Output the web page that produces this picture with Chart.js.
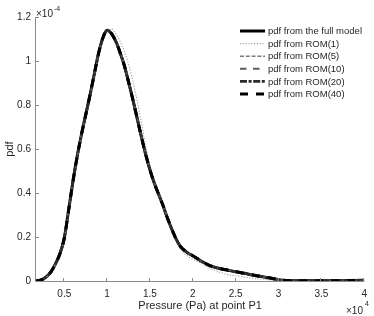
<!DOCTYPE html>
<html><head><meta charset="utf-8">
<script src="https://cdn.jsdelivr.net/npm/chart.js@4"></script>
<style>html,body{margin:0;padding:0;background:#fff}#wrap{width:374px;height:316px;position:relative}</style>
</head><body><div id="wrap"><canvas id="c" width="374" height="316"></canvas></div>
<script>
// x in units of 1e4 Pa, y in units of 1e-4
const pressure = [0.17,0.2,0.25,0.3,0.35,0.4,0.45,0.5,0.55,0.6,0.65,0.7,0.75,0.8,0.85,0.9,0.95,1.0,1.05,1.1,1.15,1.2,1.25,1.3,1.35,1.4,1.45,1.5,1.55,1.6,1.65,1.7,1.75,1.8,1.85,1.9,1.95,2.0,2.1,2.2,2.3,2.4,2.5,2.6,2.7,2.8,2.9,3.0,3.1,3.2,3.5,4.0];
const pdfFull  = [0,0.002,0.008,0.022,0.045,0.08,0.125,0.195,0.32,0.45,0.565,0.665,0.755,0.845,0.94,1.035,1.105,1.14,1.125,1.09,1.04,0.98,0.905,0.825,0.74,0.655,0.575,0.505,0.445,0.395,0.345,0.29,0.24,0.195,0.16,0.14,0.125,0.115,0.09,0.07,0.058,0.05,0.042,0.035,0.027,0.02,0.014,0.006,0.002,0.001,0.001,0.003];
const pdfRom1  = [0,0.002,0.008,0.02,0.042,0.076,0.12,0.185,0.31,0.44,0.555,0.655,0.745,0.835,0.93,1.025,1.095,1.13,1.145,1.125,1.09,1.045,0.985,0.91,0.82,0.72,0.615,0.52,0.45,0.395,0.34,0.285,0.235,0.19,0.15,0.125,0.11,0.10,0.08,0.058,0.042,0.03,0.024,0.018,0.012,0.008,0.005,0.003,0.001,0.001,0.001,0.002];
const pdfRom5  = [0,0.002,0.008,0.021,0.044,0.079,0.124,0.193,0.318,0.448,0.563,0.663,0.754,0.844,0.938,1.033,1.103,1.138,1.124,1.09,1.042,0.982,0.908,0.829,0.743,0.658,0.577,0.507,0.446,0.396,0.346,0.292,0.242,0.198,0.163,0.142,0.126,0.114,0.089,0.069,0.058,0.051,0.043,0.036,0.028,0.021,0.014,0.006,0.002,0.001,0.001,0.003];
const pdfRom10 = [0,0.002,0.008,0.022,0.045,0.08,0.126,0.196,0.321,0.451,0.566,0.666,0.756,0.846,0.941,1.036,1.106,1.141,1.126,1.091,1.041,0.981,0.906,0.826,0.741,0.656,0.576,0.506,0.445,0.395,0.345,0.29,0.241,0.196,0.161,0.141,0.125,0.115,0.091,0.071,0.059,0.05,0.042,0.035,0.027,0.02,0.013,0.006,0.002,0.001,0.001,0.003];
const pdfRom20 = [0,0.002,0.008,0.022,0.045,0.08,0.125,0.195,0.32,0.45,0.565,0.665,0.755,0.845,0.94,1.035,1.105,1.14,1.125,1.09,1.04,0.98,0.905,0.825,0.74,0.655,0.575,0.505,0.445,0.395,0.345,0.29,0.24,0.195,0.16,0.14,0.125,0.115,0.09,0.07,0.058,0.05,0.042,0.035,0.027,0.02,0.014,0.006,0.002,0.001,0.001,0.003];
const pdfRom40 = [0,0.002,0.008,0.022,0.045,0.08,0.125,0.195,0.32,0.45,0.565,0.665,0.755,0.845,0.94,1.035,1.105,1.14,1.125,1.09,1.04,0.98,0.905,0.825,0.74,0.655,0.575,0.505,0.445,0.395,0.345,0.29,0.24,0.195,0.16,0.14,0.125,0.115,0.09,0.07,0.058,0.05,0.042,0.035,0.027,0.02,0.014,0.006,0.002,0.001,0.001,0.003];
const seriesLabels = ['pdf from the full model','pdf from ROM(1)','pdf from ROM(5)','pdf from ROM(10)','pdf from ROM(20)','pdf from ROM(40)'];
const xTicks = [0.5,1,1.5,2,2.5,3,3.5,4];
const xTickLabels = ['0.5','1','1.5','2','2.5','3','3.5','4'];
const yTicks = [0,0.2,0.4,0.6,0.8,1,1.2];
const yTickLabels = ['0','0.2','0.4','0.6','0.8','1','1.2'];
const xTitle = 'Pressure (Pa) at point P1';
const yTitle = 'pdf';

const FONT = '"Liberation Sans", Arial, Helvetica, sans-serif';
const TXT = '#262626';
const AX = '#8c8c8c';

function pts(ys){ return pressure.map((x,i)=>({x:x,y:ys[i]})); }
const styles = [
  {c:'#000000', w:3, d:[], o:6},
  {c:'#a6a6a6', w:1.2, d:[1.2,1.6], o:5},
  {c:'#7a7a7a', w:1.6, d:[4,1.8], o:4},
  {c:'#5c5c5c', w:2, d:[6.5,6.5], o:3},
  {c:'#2b2b2b', w:2.6, d:[7,1.6,3,1.6], o:2},
  {c:'#000000', w:3, d:[8,8], o:1}
];
const allY = [pdfFull,pdfRom1,pdfRom5,pdfRom10,pdfRom20,pdfRom40];
const datasets = allY.map((ys,i)=>({
  label: seriesLabels[i], data: pts(ys), borderColor: styles[i].c, backgroundColor: styles[i].c,
  borderWidth: styles[i].w, borderDash: styles[i].d, pointRadius: 0, fill: false,
  cubicInterpolationMode: 'monotone', order: styles[i].o
}));

const decor = {
  id: 'decor',
  afterDraw(chart){
    const ctx = chart.ctx, a = chart.chartArea;
    const xs = chart.scales.x, ys = chart.scales.y;
    ctx.save();
    ctx.strokeStyle = AX; ctx.lineWidth = 1;
    ctx.beginPath();
    ctx.moveTo(a.left-0.5, a.top); ctx.lineTo(a.left-0.5, a.bottom+0.5);
    ctx.lineTo(a.right, a.bottom+0.5);
    xTicks.forEach(v=>{ const px = Math.round(xs.getPixelForValue(v))-0.5; ctx.moveTo(px, a.bottom+0.5); ctx.lineTo(px, a.bottom-3); });
    yTicks.forEach(v=>{ const py = Math.round(ys.getPixelForValue(v))+0.5; ctx.moveTo(a.left-0.5, py); ctx.lineTo(a.left+3, py); });
    ctx.stroke();
    // titles
    ctx.fillStyle = TXT;
    ctx.font = '11px ' + FONT;
    ctx.textAlign = 'center'; ctx.textBaseline = 'middle';
    ctx.fillText(xTitle, (a.left+a.right)/2, 306);
    ctx.save(); ctx.translate(10, (a.top+a.bottom)/2); ctx.rotate(-Math.PI/2);
    ctx.fillText(yTitle, 0, 0); ctx.restore();
    // exponents
    ctx.textAlign = 'left'; ctx.textBaseline = 'alphabetic';
    ctx.font = '10px ' + FONT;
    ctx.fillText('\u00d710', 36, 17);
    ctx.font = '7px ' + FONT;
    ctx.fillText('-4', 54, 11);
    ctx.font = '10px ' + FONT;
    ctx.fillText('\u00d710', 346, 314);
    ctx.font = '7px ' + FONT;
    ctx.fillText('4', 365, 306);
    // legend
    ctx.font = '9.5px ' + FONT; ctx.textBaseline = 'middle';
    chart.data.datasets.forEach((ds,i)=>{
      const y = 31 + i*12.6;
      ctx.save();
      ctx.strokeStyle = ds.borderColor; ctx.lineWidth = ds.borderWidth; ctx.setLineDash(ds.borderDash);
      ctx.beginPath(); ctx.moveTo(240, y); ctx.lineTo(265, y); ctx.stroke();
      ctx.restore();
      ctx.fillStyle = TXT;
      ctx.fillText(ds.label, 268, y+0.5);
    });
    ctx.restore();
  }
};

new Chart(document.getElementById('c'), {
  type: 'line',
  data: { datasets },
  options: {
    responsive: false, animation: false,
    layout: { padding: { left: 0, right: 4, top: 17, bottom: 0 } },
    plugins: { legend: { display: false }, tooltip: { enabled: false } },
    scales: {
      x: { type: 'linear', min: 0.17, max: 4,
        afterBuildTicks: s => { s.ticks = xTicks.map(v=>({value:v})); },
        afterFit: s => { s.height = 35; },
        grid: { display: false, drawTicks: false }, border: { display: false },
        ticks: { padding: 7, color: TXT, font: { family: FONT, size: 10 }, maxRotation: 0, autoSkip: false,
          callback: (v,i) => xTickLabels[i] } },
      y: { type: 'linear', min: 0, max: 1.2,
        afterBuildTicks: s => { s.ticks = yTicks.map(v=>({value:v})); },
        afterFit: s => { s.width = 36; },
        grid: { display: false, drawTicks: false }, border: { display: false },
        ticks: { padding: 5, color: TXT, font: { family: FONT, size: 10 }, autoSkip: false,
          callback: (v,i) => yTickLabels[i] } }
    }
  },
  plugins: [decor]
});
</script></body></html>
